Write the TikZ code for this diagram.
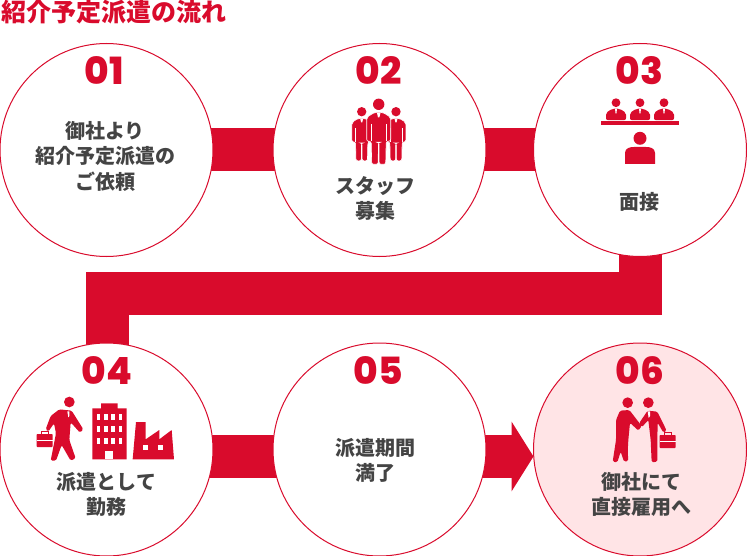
\documentclass[tikz,border=0pt]{standalone}
\usepackage{fontspec}
\usepackage{xcolor}
\usepackage{tikz}
\usetikzlibrary{arrows.meta, positioning, backgrounds}
\setmainfont{Noto Sans CJK JP}
\newfontfamily\numfont{Poppins ExtraBold}
\definecolor{flowred}{HTML}{D90B2C}
\definecolor{flowpink}{HTML}{FFE4E6}
\definecolor{flowtext}{HTML}{444444}

\tikzset{
    stepcircle/.style={circle, draw=flowred, line width=1pt, fill=white, minimum size=213pt, inner sep=0pt, outer sep=0pt},
    stepnum/.style={font=\numfont\fontsize{37.5}{37.5}\selectfont, text=flowred, inner sep=0pt},
    steptext/.style={font=\bfseries\fontsize{20}{25.5}\selectfont, text=flowtext, align=center, inner sep=0pt},
    flowbar/.style={draw=flowred, line width=43pt},
    suitman/.pic={
        \fill[flowred] (0,0) circle (5.7);
        \fill[flowred, draw=white, line width=.6pt, rounded corners=2pt] (-12,37) -- (-12,13) -- (-4,8) -- (4,8) -- (12,13) -- (12,37) -- (7.5,37) -- (7,60) -- (.5,60) -- (.3,38) -- (-.3,38) -- (-.5,60) -- (-7,60) -- (-7.5,37) -- cycle;
        \fill[white] (-1.8,8.5) -- (1.8,8.5) -- (.7,13) -- (-.7,13) -- cycle;
        \draw[white, line width=.3pt] (-7.5,20) -- (-7.5,37) (7.5,20) -- (7.5,37);
    },
    bustman/.pic={
        \fill[flowred] (0,0) circle (4.4);
        \fill[flowred, rounded corners=2pt] (-10,17.5) -- (-10,10) -- (-3.5,6) -- (3.5,6) -- (10,10) -- (10,17.5) -- cycle;
        \fill[white] (-1,6) -- (1,6) -- (.4,11) -- (-.4,11) -- cycle;
    },
    briefcase/.pic={
        \draw[flowred, line width=.8pt] (-3.5,0) -- (-3.5,-2.3) -- (3.5,-2.3) -- (3.5,0);
        \fill[flowred, rounded corners=.8pt] (-8,0) rectangle (8,13);
        \draw[white, line width=.4pt] (-8,6) -- (8,6);
    }
}

\begin{document}
\begin{tikzpicture}[x=1pt, y=-1pt]
    \useasboundingbox (0,0) rectangle (747,556);

    % Title
    \node[anchor=west, inner sep=0pt, text=flowred, font=\bfseries\fontsize{25}{25}\selectfont] (title) at (1,12) {紹介予定派遣の流れ};

    % Step Circles
    \node[stepcircle] (c1) at (106.5,150) {};
    \node[stepcircle, right=60pt of c1] (c2) {};
    \node[stepcircle, right=47.5pt of c2] (c3) {};
    \node[stepcircle, below=86.5pt of c1] (c4) {};
    \node[stepcircle, right=60pt of c4] (c5) {};
    \node[stepcircle, right=47.5pt of c5, fill=flowpink] (c6) {};

    % Connectors
    \coordinate (bendR) at (640.5,293.5);
    \coordinate (bendL) at (107.5,293.5);
    \begin{scope}[on background layer]
        \draw[flowbar] (c1.center) -- (c2.center);
        \draw[flowbar] (c2.center) -- (c3.center);
        \draw[flowbar] (bendR |- c3.center) -- (bendR) -- (bendL) -- (bendL |- c4.center);
        \draw[flowbar] ([yshift=-7pt]c4.center) -- ([yshift=-7pt]c5.center);
        \draw[flowbar, -{Triangle[length=22pt, width=69pt]}] ([yshift=-7pt]c5.center) -- ([yshift=-7pt]c6.west);
    \end{scope}

    % Step Numbers
    \node[stepnum] (n1) at ([xshift=-2pt, yshift=79pt]c1) {01};
    \node[stepnum] (n2) at ([xshift=-1pt, yshift=79pt]c2) {02};
    \node[stepnum] (n3) at ([xshift=-.5pt, yshift=79pt]c3) {03};
    \node[stepnum] (n4) at ([xshift=.5pt, yshift=79pt]c4) {04};
    \node[stepnum] (n5) at ([xshift=-1pt, yshift=79pt]c5) {05};
    \node[stepnum] (n6) at ([xshift=0pt, yshift=79pt]c6) {06};

    % Step Labels
    \node[steptext] (t1) at ([xshift=-1.5pt, yshift=-6pt]c1) {御社より\\紹介予定派遣の\\ご依頼};
    \node[steptext] (t2) at ([xshift=-4.5pt, yshift=-48.5pt]c2) {スタッフ\\募集};
    \node[steptext] (t3) at ([xshift=-1pt, yshift=-52pt]c3) {面接};
    \node[steptext] (t4) at ([yshift=-45pt]c4) {派遣として\\勤務};
    \node[steptext] (t5) at ([xshift=-4pt, yshift=-11pt]c5) {派遣期間\\満了};
    \node[steptext] (t6) at ([xshift=1pt, yshift=-45pt]c6) {御社にて\\直接雇用へ};

    % Icon 02: Staff
    \pic[scale=.82] at (361.7,111.7) {suitman};
    \pic[scale=.82] at (396,111.7) {suitman};
    \pic at (378.7,104.3) {suitman};

    % Icon 03: Interview
    \pic at (616,102.7) {bustman};
    \pic at (640,102.7) {bustman};
    \pic at (664,102.7) {bustman};
    \fill[flowred] (601,121) rectangle (679,124.7);
    \fill[flowred] (640,138.3) circle (6.5);
    \fill[flowred] (625,164) -- (625,153) .. controls (625,148) and (630,147) .. (634,147) -- (646,147) .. controls (650,147) and (655,148) .. (655,153) -- (655,164) -- cycle;

    % Icon 04: Walking Man, Office, Factory
    \begin{scope}[shift={(30,390)}, scale=1/3]
        \fill[flowred] (118,36) circle (16);
        \fill[flowred, rounded corners=1.5pt] (88,58) -- (125,62) -- (160,118) -- (150,128) -- (122,97) -- (118,150) -- (137,205) -- (122,212) -- (95,165) -- (78,212) -- (62,212) -- (78,130) -- (72,100) -- (55,125) -- (47,118) -- (62,78) -- cycle;
        \fill[white] (112,64) -- (118,64) -- (118,78) -- (115,82) -- cycle;
        \pic at (44,132) {briefcase};
        % Office
        \fill[flowred] (187,208) -- (187,55) -- (213,55) -- (213,40) -- (263,40) -- (263,55) -- (290,55) -- (290,208) -- cycle;
        \foreach \wy in {72,108,145}
            \foreach \wx in {200,222,244,266}
                \fill[white] (\wx,\wy) rectangle +(11,18);
        \fill[white] (225,208) rectangle (250,182);
        % Factory
        \fill[flowred] (308,208) -- (318,96) -- (347,96) -- (347,148) -- (388,120) -- (388,148) -- (425,120) -- (432,208) -- cycle;
        \fill[white] (340,165) rectangle (355,180);
        \fill[white] (383,165) rectangle (398,180);
    \end{scope}

    % Icon 06: Handshake
    \begin{scope}[shift={(600,390)}, scale=1/3]
        \fill[flowred] (83,38) circle (16);
        \fill[flowred] (145,38) circle (16);
        \fill[flowred, rounded corners=1.5pt] (60,62) -- (88,60) -- (125,108) -- (115,122) -- (90,98) -- (85,150) -- (83,185) -- (85,213) -- (72,215) -- (62,185) -- (52,217) -- (38,215) -- (48,150) -- (48,90) -- cycle;
        \fill[flowred, rounded corners=1.5pt] (143,62) -- (117,100) -- (125,112) -- (145,90) -- (152,150) -- (155,217) -- (172,215) -- (172,150) -- (173,98) -- (190,128) -- (200,122) -- (172,65) -- cycle;
        \fill[white] (143,64) -- (150,64) -- (150,78) -- (146,84) -- cycle;
        \pic at (203,135) {briefcase};
    \end{scope}
\end{tikzpicture}
\end{document}
